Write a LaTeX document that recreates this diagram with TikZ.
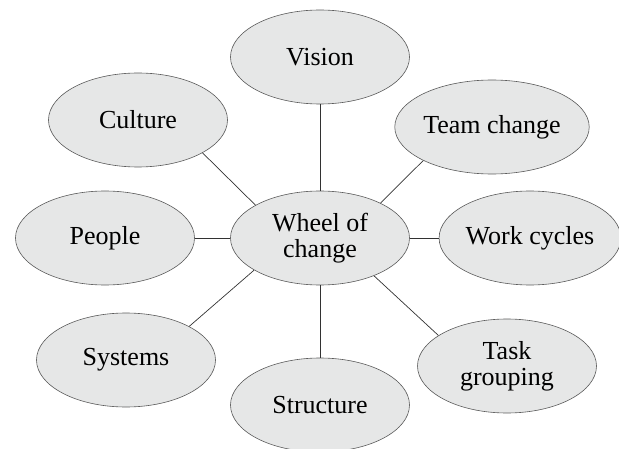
\documentclass[tikz,border=0pt]{standalone}
\usepackage{fontspec}
\setmainfont{Liberation Serif}
\usepackage{tikz}
\usetikzlibrary{shapes.geometric}
\definecolor{bubblefill}{RGB}{230,231,231}
\definecolor{bubbleline}{RGB}{90,90,90}
\definecolor{spoke}{RGB}{50,50,50}

\begin{document}
\begin{tikzpicture}[x=1pt,y=1pt,
    bubble/.style={ellipse,draw=bubbleline,fill=bubblefill,line width=0.6pt,
        minimum width=179pt,minimum height=94pt,inner sep=0pt,align=center,
        font=\fontsize{26}{26}\selectfont},
    spokeline/.style={draw=spoke,line width=0.7pt}]
    \useasboundingbox (0,0) rectangle (619,448);
    % Hub
    \node[bubble] (wheel) at (320,210) {Wheel of\\change};
    % Outer bubbles
    \node[bubble] (vision)    at (320,391) {Vision};
    \node[bubble] (culture)   at (138,328) {Culture};
    \node[bubble] (team)      at (492,321) {Team change};
    \node[bubble] (people)    at (105,210) {People};
    \node[bubble] (work)      at (530,210) {Work cycles};
    \node[bubble] (systems)   at (126,88)  {Systems};
    \node[bubble] (structure) at (320,43)  {Structure};
    \node[bubble] (task)      at (507,82)  {Task\\grouping};
    % Spokes
    \draw[spokeline] (vision.south)  -- (wheel.north);
    \draw[spokeline] (culture.-27)   -- (wheel.153);
    \draw[spokeline] (team.206)      -- (wheel.30);
    \draw[spokeline] (people.east)   -- (wheel.west);
    \draw[spokeline] (work.west)     -- (wheel.east);
    \draw[spokeline] (systems.28)    -- (wheel.206);
    \draw[spokeline] (structure.north) -- (wheel.south);
    \draw[spokeline] (task.156)      -- (wheel.-35);
\end{tikzpicture}
\end{document}
